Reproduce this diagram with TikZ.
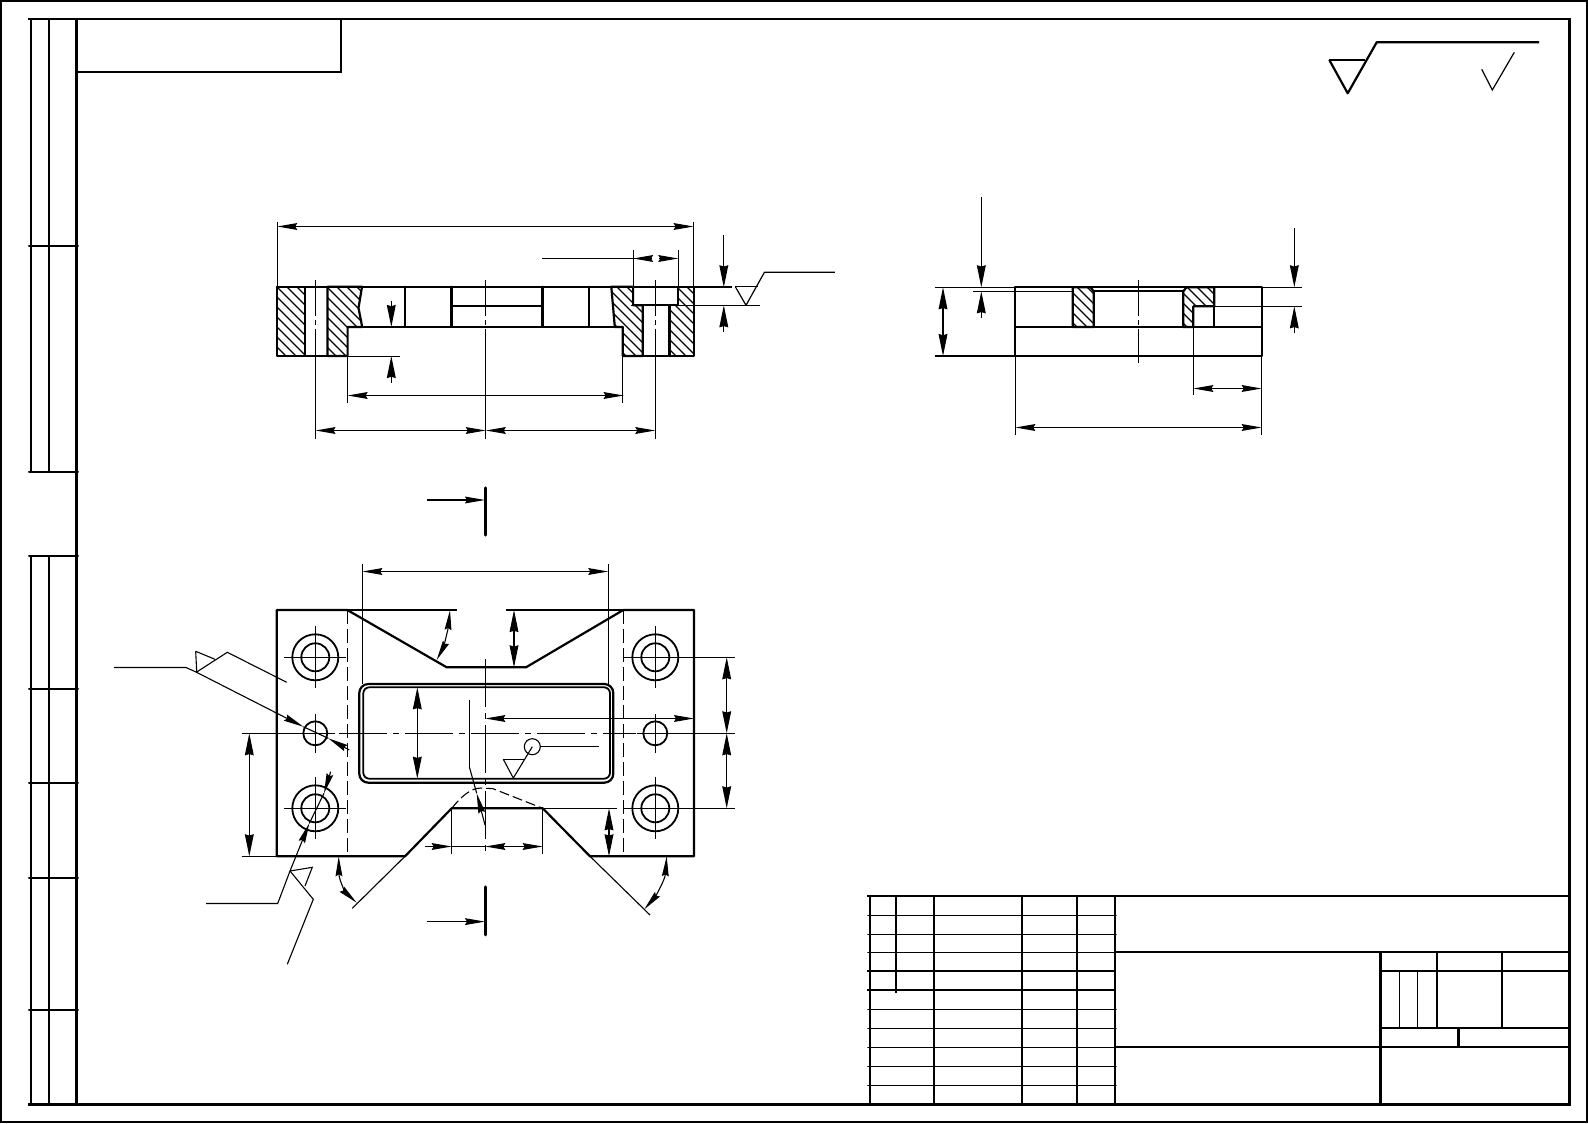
\documentclass[tikz,border=0pt]{standalone}
\usetikzlibrary{arrows.meta}

\newcommand{\hatcharea}[1]{%
	\begin{scope}
	\clip #1;
	\foreach \hx in {190,200,...,1300}
		\draw[hatch] (\hx,280) -- (\hx+90,370);
	\end{scope}
	\draw[part] #1;
}

\begin{document}
\begin{tikzpicture}[x=.5pt,y=-.5pt,>={Stealth[length=10pt,width=3.4pt,inset=1pt]},
	part/.style={line width=1.1pt,line cap=round,line join=round},
	frm/.style={line width=1.1pt,line cap=rect},
	thin line/.style={line width=.55pt},
	hatch/.style={line width=.6pt},
	dim/.style={line width=.55pt},
	vdim/.style={line width=.55pt,>={Stealth[length=11pt,width=4.4pt,inset=.6pt]}},
	cen/.style={line width=.55pt,dash pattern=on 18pt off 2pt on 2.5pt off 2pt on 200pt off 0pt},
	cenlong/.style={line width=.55pt,dash pattern=on 24pt off 3pt on 3pt off 3pt},
	hid/.style={line width=.8pt,dash pattern=on 7pt off 2.5pt},
	cut/.style={line width=1.6pt,line cap=round}]
	\useasboundingbox (0,0) rectangle (1588,1123);
	\fill[white] (0,0) rectangle (1588,1123);

	\draw[line width=1pt] (.8,.8) rectangle (1587.2,1122.2);
	\draw[frm] (76.5,19) rectangle (1569.4,1104.5);
	\draw[frm] (29,19) -- (76.5,19) (29,1104.5) -- (76.5,1104.5);
	\draw[frm] (76.5,72) -- (340.7,72) -- (340.7,19);
	\foreach \sx in {31,49} {
		\draw[frm] (\sx,19) -- (\sx,472);
		\draw[frm] (\sx,556) -- (\sx,1104.5);
	}
	\foreach \sy in {246,472,556,688.5,782.6,878,1010}
		\draw[part,line width=1pt] (29,\sy) -- (78,\sy);

	\foreach \ty in {915.3,934.3,952.3,1009.3,1028.3,1047.3,1066.3,1085.3}
		\draw[part,line width=.8pt] (868,\ty) -- (1116,\ty);
	\foreach \ty in {971.3,990.3}
		\draw[frm] (868,\ty) -- (1115.3,\ty);
	\foreach \tx in {934.3,1021.6,1077.3,1115.3}
		\draw[frm] (\tx,896.3) -- (\tx,1104.5);
	\draw[frm] (870.2,896.3) -- (870.2,1104.5);
	\draw[frm] (896.2,896.3) -- (896.2,992);
	\draw[frm] (868,896.3) -- (1569.4,896.3);
	\draw[frm] (1115.3,952.3) -- (1569.4,952.3);
	\draw[frm] (1115.3,1047.3) -- (1569.4,1047.3);
	\draw[frm] (1380.4,971.3) -- (1569.4,971.3);
	\draw[frm] (1380.4,1028.3) -- (1569.4,1028.3);
	\draw[frm] (1380.4,952.3) -- (1380.4,1104.5);
	\draw[frm] (1436.6,952.3) -- (1436.6,1028.3);
	\draw[frm] (1501.6,952.3) -- (1501.6,1028.3);
	\draw[frm] (1458.4,1028.3) -- (1458.4,1047.3);
	\draw[thin line] (1399.5,971.3) -- (1399.5,1028.3) (1417.6,971.3) -- (1417.6,1028.3);

	\draw[line width=1.1pt] (1329.3,60) -- (1365,60);
	\draw[line width=1.1pt,line join=round] (1329.3,60) -- (1347.7,93.3) -- (1376.7,42.3) -- (1539,42.3);
	\draw[line width=.6pt] (1481.7,69.3) -- (1492.3,90) -- (1514.3,52.3);

	\hatcharea{(277.2,286.7) rectangle (304.8,356)}
	\hatcharea{(327.4,286.7) -- (362,286.7) -- (358.5,308) -- (362.2,327) -- (347.6,327) -- (347.6,356) -- (327.4,356) -- cycle}
	\hatcharea{(611.3,286.7) -- (633.1,286.7) -- (633.1,305.3) -- (642.7,305.3) -- (642.7,356) -- (622.8,356) -- (622.8,327) -- (614.8,327) -- cycle}
	\hatcharea{(669.5,305.3) -- (678.3,305.3) -- (678.3,286.7) -- (693.6,286.7) -- (693.6,356) -- (669.5,356) -- cycle}
	\draw[part] (277.2,286.7) -- (693.6,286.7);
	\draw[part] (304.8,356) -- (327.4,356) (642.7,356) -- (669.5,356);
	\draw[part] (347.6,327) -- (622.8,327);
	\draw[part] (633.1,305.3) -- (669.5,305.3);
	\draw[part] (451.4,306) -- (542.4,306);
	\foreach \vx in {404.7,451.4,542.4,589}
		\draw[part] (\vx,286.7) -- (\vx,327);
	\foreach \vx in {315.5,485.8,655.3}
		\draw[cen] (\vx,280) -- (\vx,438.7);

	\draw[dim,<->] (277.2,226.5) -- (693.6,226.5);
	\draw[dim] (277.2,222) -- (277.2,286.7) (693.6,222) -- (693.6,286.7);
	\draw[dim] (633.1,250) -- (633.1,286.7) (678.3,250) -- (678.3,286.7);
	\draw[dim] (542.4,258.5) -- (640,258.5);
	\draw[dim,<-] (633.1,258.5) -- (652,258.5);
	\draw[dim,->] (659,258.5) -- (678.3,258.5);
	\draw[vdim,->] (723.8,235) -- (723.8,287.3);
	\draw[vdim,->] (723.8,331.7) -- (723.8,305.3);
	\draw[dim] (693.6,287) -- (731.5,287) (631,305.3) -- (760,305.3);
	\draw[line width=.6pt] (735.3,286.7) -- (757.5,286.7);
	\draw[line width=.6pt,line join=round] (735.3,286.7) -- (746,305.3) -- (764.4,272.3) -- (834.8,272.3);
	\draw[vdim,->] (391.3,301) -- (391.3,327);
	\draw[vdim,->] (391.3,382.7) -- (391.3,356);
	\draw[dim] (347.6,356.5) -- (399.7,356.5);
	\draw[dim,<->] (347.6,395.5) -- (623.6,395.5);
	\draw[dim] (347.6,356) -- (347.6,402.7) (622.8,356) -- (622.8,402.7);
	\draw[dim,<->] (315.5,430.5) -- (485.8,430.5);
	\draw[dim,<->] (485.8,430.5) -- (655.3,430.5);

	\draw[part] (1015.3,287.3) rectangle (1261.7,356);
	\draw[part] (1015.3,327) -- (1261.7,327);
	\hatcharea{(1072.7,287.3) -- (1090.5,287.3) -- (1093.7,291.3) -- (1093.7,327) -- (1072.7,327) -- cycle}
	\hatcharea{(1183.3,327) -- (1183.3,291.3) -- (1186.5,287.3) -- (1214.3,287.3) -- (1214.3,306.3) -- (1193.3,306.3) -- (1193.3,327) -- cycle}
	\draw[part] (1214.3,287.3) -- (1214.3,327);
	\draw[part] (1093.7,291.3) -- (1183.3,291.3);
	\draw[dim] (973.3,291.5) -- (1072.7,291.5);
	\draw[dim] (1214.3,306.5) -- (1301.7,306.5);
	\draw[dim] (1193.3,327) -- (1193.3,395);
	\draw[cen] (1138.3,280) -- (1138.3,363.3);
	\draw[dim] (935,287.5) -- (1015.3,287.5) (935,356) -- (1015.3,356);
	\draw[vdim,<->] (943,287.3) -- (943,356);
	\draw[vdim,->] (981.3,197.3) -- (981.3,287.3);
	\draw[vdim,->] (981.3,318.3) -- (981.3,291.3);
	\draw[dim] (1261.7,287.5) -- (1301.7,287.5);
	\draw[vdim,->] (1294.3,228.3) -- (1294.3,287.3);
	\draw[vdim,->] (1294.3,333.3) -- (1294.3,306.3);
	\draw[dim,<->] (1193.3,388.5) -- (1261.7,388.5);
	\draw[dim,<->] (1015.3,427.5) -- (1261.7,427.5);
	\draw[dim] (1015.3,356) -- (1015.3,435) (1261.7,356) -- (1261.7,435);

	\draw[cut] (485.3,488) -- (485.3,535);
	\draw[cut] (485.3,887) -- (485.3,934.8);
	\draw[dim,->] (427.4,500) -- (485,500);
	\draw[dim,->] (427.4,921.6) -- (485,921.6);

	\draw[part] (276.7,610) -- (347.3,610) -- (446.7,667.3) -- (526,667.3) -- (623.3,610) -- (694,610) -- (694,856.3) -- (590,856.3) -- (542.7,808.3) -- (451.7,808.3) -- (405,856.3) -- (276.7,856.3) -- cycle;
	\draw[hid] (347.3,610) -- (347.3,856.3);
	\draw[hid] (623.3,610) -- (623.3,856.3);
	\draw[part,rounded corners=4.5pt] (359.3,684) rectangle (613.3,782.7);
	\draw[part,line width=.9pt,rounded corners=3pt] (363.3,687.3) rectangle (610,778.7);
	\foreach \hx in {315.3,655.3} {
		\foreach \hy in {657.3,808.3} {
			\draw[part,line width=.9pt] (\hx,\hy) circle (11.5pt);
			\draw[part,line width=.9pt] (\hx,\hy) circle (7pt);
			\draw[dim] (\hx-31,\hy) -- (\hx+31,\hy) (\hx,\hy-31) -- (\hx,\hy+31);
		}
		\draw[part,line width=.9pt] (\hx,733.3) circle (6pt);
		\draw[dim] (\hx,714) -- (\hx,752.7);
	}
	\draw[dim] (241.7,733.5) -- (335,733.5);
	\draw[dim] (636.7,733.5) -- (735,733.5);
	\draw[cenlong] (339,733.5) -- (636,733.5);
	\draw[cenlong] (485.3,659.3) -- (485.3,857);

	\draw[dim,<->] (362.3,571.5) -- (608.3,571.5);
	\draw[dim] (362.3,564) -- (362.3,684) (608.3,564) -- (608.3,684);
	\draw[dim] (347.3,610) -- (457.3,610) (506,610) -- (623.3,610);
	\draw[vdim,<->] (514,610) -- (514,667.3);
	\draw[dim,<->] (450,610) .. controls (448,630) and (443,648) .. (436.7,660);
	\draw[vdim,<->] (417.3,687.3) -- (417.3,778.7);
	\draw[dim,<->] (485.3,718.5) -- (694,718.5);
	\draw[dim] (655.3,657.5) -- (735,657.5) (625,808.5) -- (735,808.5) (542.7,808.5) -- (616.7,808.5);
	\draw[vdim,<->] (726.7,657.3) -- (726.7,733.3);
	\draw[vdim,<->] (726.7,733.3) -- (726.7,808.3);
	\draw[dim] (241.7,856.5) -- (276.7,856.5);
	\draw[vdim,<->] (249.3,733.3) -- (249.3,856.3);
	\draw[vdim,<->] (609,808.3) -- (609,856.3);
	\draw[dim,->] (425,846.5) -- (451.7,846.5);
	\draw[dim] (451.7,846.5) -- (485.3,846.5);
	\draw[dim,<->] (485.3,846.5) -- (542.7,846.5);
	\draw[dim] (451.7,808.3) -- (451.7,854) (542.7,808.3) -- (542.7,854);
	\draw[dim] (405,856.3) -- (352.3,908.3) (590,856.3) -- (650,915);
	\draw[dim,<->] (338.7,856.3) .. controls (339,880) and (346,893) .. (356.7,902.7);
	\draw[dim,<->] (666.7,856.3) .. controls (665,880) and (655,897) .. (644.3,909.3);

	\draw[dim] (469.3,700) -- (469.3,766.7);
	\draw[dim,->] (485,825) -- (476.7,793.3);
	\draw[dim] (469.3,766.7) -- (476.7,793.3);
	\draw[line width=.55pt,dash pattern=on 5pt off 2pt] (451.7,808.3) .. controls (460,798) and (470,788) .. (481,788) -- (493,788.7) -- (542.7,808.3);

	\draw[thin line] (532.3,746.7) circle (4pt);
	\draw[thin line] (540,746.5) -- (599,746.5);
	\draw[thin line] (503.3,759.3) -- (525,759.3);
	\draw[thin line] (503.3,759.3) -- (513.3,778) -- (532.3,746.7);

	\draw[thin line] (114,667.5) -- (186,667.5) -- (196,672);
	\draw[dim,->] (196,672) -- (303.3,726.7);
	\draw[dim,->] (349.3,750) -- (328.3,738.3);
	\draw[dim] (303.3,726.7) -- (328.3,738.3);
	\draw[thin line] (195.7,651.3) -- (196.7,672) -- (227.3,652.3) -- (286.7,682.3);
	\draw[thin line] (195.7,651.3) -- (215,659.3);

	\draw[thin line] (206,903.5) -- (277.7,903.5) -- (290,871);
	\draw[dim,->] (290,871) -- (309.3,823.3);
	\draw[dim] (309.3,823.3) -- (324,793.3);
	\draw[dim,->] (330.7,771.7) -- (324,793.3);
	\draw[thin line] (290,871) -- (312.3,867.3) -- (305,886);
	\draw[thin line] (290,871) -- (313.3,899.3) -- (287.3,964.3);
\end{tikzpicture}
\end{document}
